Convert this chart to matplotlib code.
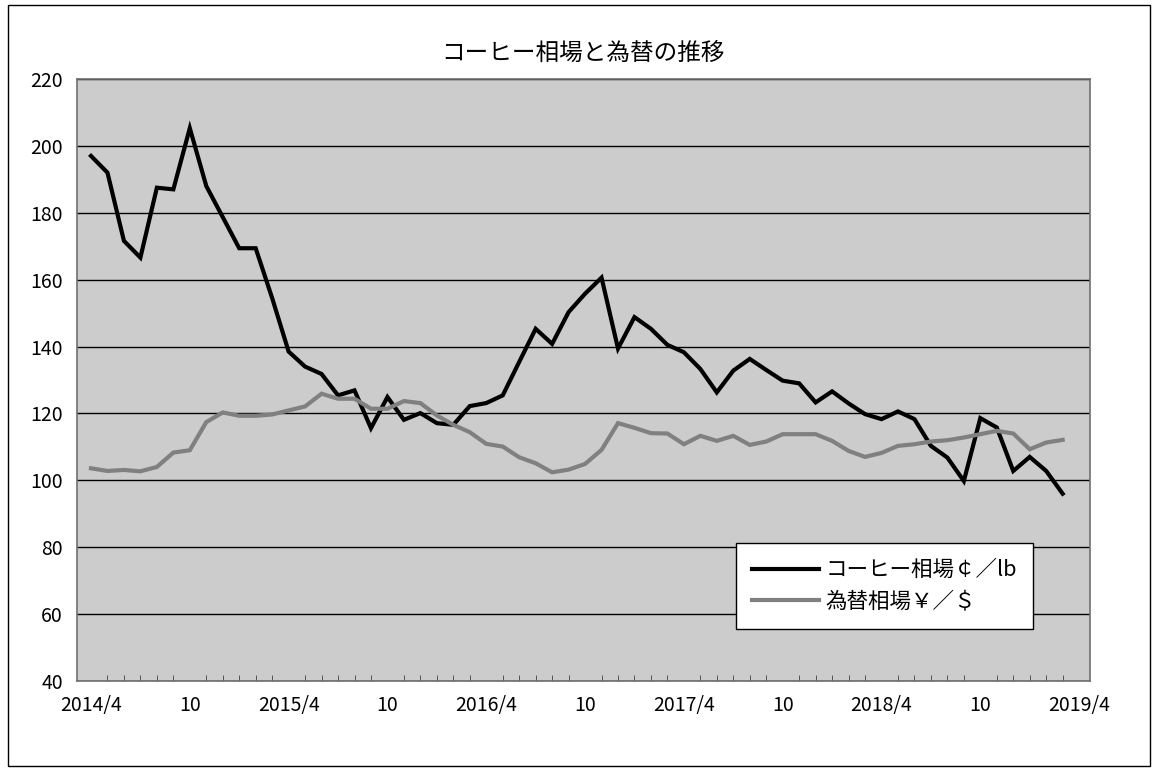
import matplotlib
matplotlib.use('Agg')
import matplotlib.pyplot as plt
from matplotlib.patches import Rectangle
import numpy as np

plt.rcParams['font.family'] = ['Noto Sans CJK JP', 'DejaVu Sans']

# Monthly values, 2014/4 .. 2019/3
coffee = [197.0, 192.0, 171.6, 166.6, 187.5, 187.0, 205.3, 188.0, 178.7, 169.4,
          169.4, 154.5, 138.5, 134.0, 131.8, 125.4, 126.9, 115.6, 124.9, 118.1,
          120.1, 117.1, 116.6, 122.2, 123.1, 125.4, 135.4, 145.3, 140.8, 150.3,
          155.8, 160.6, 139.4, 148.8, 145.3, 140.5, 138.3, 133.3, 126.3, 132.8,
          136.3, 133.0, 129.8, 129.0, 123.3, 126.6, 123.0, 119.8, 118.3, 120.6,
          118.3, 110.3, 106.8, 99.8, 118.6, 115.8, 102.8, 107.0, 102.8, 96.0]
yen = [103.6, 102.8, 103.1, 102.7, 104.0, 108.3, 109.0, 117.4, 120.3, 119.3,
       119.3, 119.7, 120.9, 122.1, 125.9, 124.4, 124.4, 121.4, 121.4, 123.7,
       123.1, 119.4, 116.6, 114.4, 110.9, 110.1, 106.9, 105.1, 102.4, 103.2,
       104.9, 109.1, 117.1, 115.7, 114.1, 114.0, 110.8, 113.3, 111.8, 113.3,
       110.6, 111.6, 113.8, 113.8, 113.8, 111.8, 108.8, 107.0, 108.2, 110.3,
       110.8, 111.6, 112.0, 112.8, 113.8, 114.8, 114.0, 109.3, 111.3, 112.1]

tick_pos = list(range(0, 61, 6))
tick_labels = ['2014/4', '10', '2015/4', '10', '2016/4', '10',
               '2017/4', '10', '2018/4', '10', '2019/4']

fig = plt.figure(figsize=(11.58, 7.75), dpi=100)
fig.patches.append(Rectangle((8 / 1158, 1 - 766 / 775), 1142 / 1158, 761 / 775,
                             transform=fig.transFigure, fill=False,
                             edgecolor='black', lw=1))

ax = fig.add_axes([77 / 1158, 1 - 681 / 775, 1013 / 1158, 602 / 775])
ax.set_facecolor('#cccccc')

x = np.arange(len(coffee))
ax.plot(x, coffee, color='black', lw=3, solid_joinstyle='miter',
        label='コーヒー相場￠／lb', zorder=3)
ax.plot(x, yen, color='#808080', lw=3, solid_joinstyle='miter',
        label='為替相場￥／＄', zorder=3)

ax.set_ylim(40, 220)
ax.set_yticks(range(40, 221, 20))
ax.grid(axis='y', color='black', lw=1, zorder=1)
ax.set_axisbelow(True)

ax.set_xlim(-0.85, 60.66)
ax.set_xticks(tick_pos)
ax.set_xticklabels(tick_labels)
ax.set_xticks(range(0, 61), minor=True)
ax.tick_params(axis='x', which='major', length=0, pad=10, labelsize=14)
ax.tick_params(axis='x', which='minor', direction='in', length=4,
               color='#404040')
ax.tick_params(axis='y', length=0, pad=10, labelsize=14)

for side in ax.spines.values():
    side.set_color('#707070')
    side.set_linewidth(1.2)

fig.text(583 / 1158, 1 - 53 / 775, 'コーヒー相場と為替の推移',
         ha='center', va='center', fontsize=17)

leg = ax.legend(loc='upper left', bbox_to_anchor=(0.6505, 0.2292),
                fontsize=15.5, frameon=True, fancybox=False,
                handlelength=3.1, handletextpad=0.3, labelspacing=0.45,
                borderpad=0.75, borderaxespad=0)
leg.get_frame().set_edgecolor('black')
leg.get_frame().set_linewidth(1)
leg.get_frame().set_facecolor('white')
leg.get_frame().set_alpha(1)

fig.savefig('out.png', dpi=100)
